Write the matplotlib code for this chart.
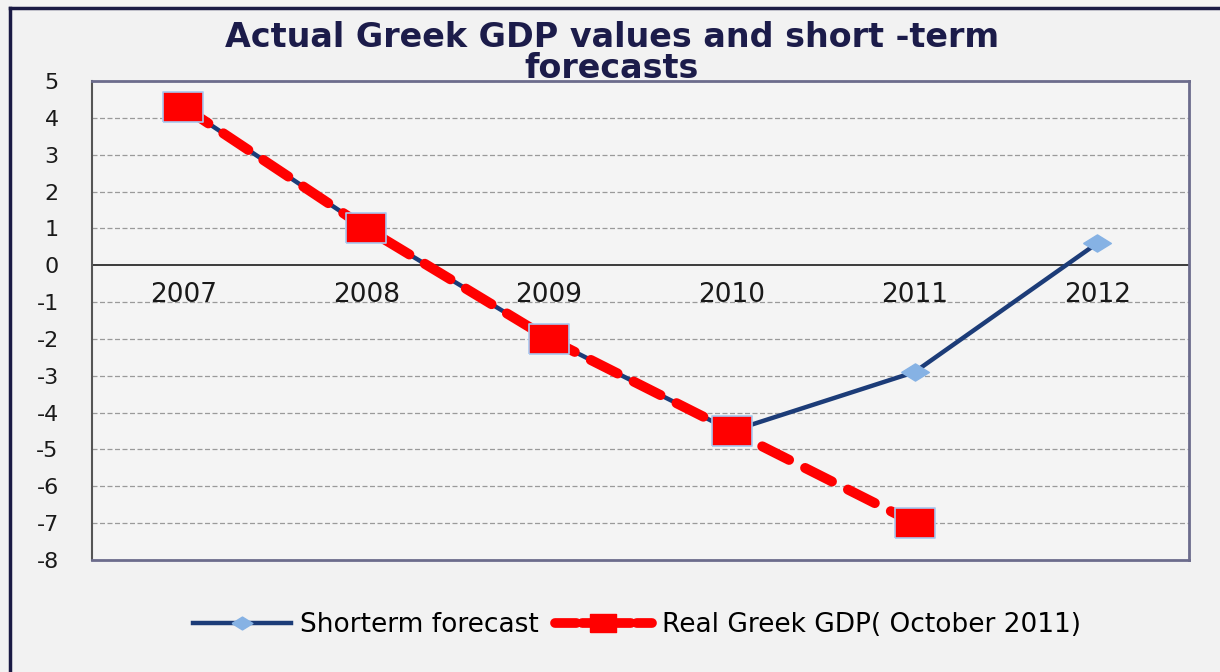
import matplotlib
matplotlib.use("Agg")
import matplotlib.pyplot as plt
from matplotlib.lines import Line2D

years = ["2007", "2008", "2009", "2010", "2011", "2012"]
forecast = [4.3, 1.0, -2.0, -4.5, -2.9, 0.6]
real_gdp = [4.3, 1.0, -2.0, -4.5, -7.0]
y_ticks = list(range(-8, 6))

navy = "#1c3c78"
light_blue = "#86b2e4"
red = "#ff0000"
bg = "#f2f2f2"

# wide, slightly squashed markers
square = [(-1.35, -1), (1.35, -1), (1.35, 1), (-1.35, 1), (-1.35, -1)]
diamond = [(-1, 0), (0, 0.62), (1, 0), (0, -0.62), (-1, 0)]

plt.rcParams['font.family'] = ['DejaVu Sans']

fig = plt.figure(figsize=(12.2, 6.72), dpi=100, facecolor=bg)
ax = fig.add_axes([0.0754, 0.1667, 0.899, 0.7128])
ax.set_facecolor("#f4f4f4")

x = list(range(len(years)))

# grid lines
for t in y_ticks:
    if t == 0:
        continue
    ax.axhline(t, color="#9a9a9a", lw=0.9, ls=(0, (4, 2)), zorder=1)
ax.axhline(0, color="#3a3a3a", lw=1.4, zorder=2)

ax.plot(x, forecast, color=navy, lw=3.2, marker=diamond, markersize=20,
        markerfacecolor=light_blue, markeredgecolor=light_blue, zorder=3)
ax.plot(x[:len(real_gdp)], real_gdp, color=red, lw=7.2, ls=(0, (3.0, 1.8)),
        dash_capstyle='round', zorder=4)
ax.plot(x[:len(real_gdp)], real_gdp, ls='none', marker=square, markersize=29,
        markerfacecolor=red, markeredgecolor="#a8c8f0", markeredgewidth=1.2,
        zorder=5)

ax.set_xlim(-0.5, len(years) - 0.5)
ax.set_ylim(-8, 5)
ax.set_xticks([])
ax.set_yticks(y_ticks)
ax.set_yticklabels([str(t) for t in y_ticks], fontsize=16, color="#1a1a1a")
ax.tick_params(axis='y', length=0, pad=24)

# category labels sit just under the zero line
for i, yr in enumerate(years):
    ax.annotate(yr, (i, 0), xytext=(0, -12), textcoords='offset points',
                ha='center', va='top', fontsize=19, color="#1a1a1a", zorder=6)

for side in ['top', 'right', 'bottom']:
    ax.spines[side].set_color("#6c6c8c")
    ax.spines[side].set_linewidth(2)
ax.spines['left'].set_color("#555555")
ax.spines['left'].set_linewidth(1.5)

fig.text(0.5016, 0.921, "Actual Greek GDP values and short -term\nforecasts",
         ha='center', va='center', fontsize=24, fontweight='bold',
         color="#1c1c4a", linespacing=0.95)

handles = [
    Line2D([], [], color=navy, lw=3.2, marker=diamond, markersize=15,
           markerfacecolor=light_blue, markeredgecolor=light_blue),
    Line2D([], [], color=red, lw=7, ls=(0, (2.2, 0.6)), dash_capstyle='round',
           marker=square, markersize=18, markerfacecolor=red,
           markeredgecolor=red),
]
fig.legend(handles, ["Shorterm forecast", "Real Greek GDP( October 2011)"],
           loc='center', bbox_to_anchor=(0.522, 0.07), ncol=2, frameon=False,
           fontsize=19, handlelength=3.7, handletextpad=0.35,
           columnspacing=0.6)

# outer frame edges
fig.add_artist(Line2D([0.0082, 0.0082], [0, 0.988], transform=fig.transFigure,
                      color="#1a1a44", lw=2.5))
fig.add_artist(Line2D([0.0082, 1], [0.988, 0.988], transform=fig.transFigure,
                      color="#1a1a44", lw=2.5))

fig.savefig("out.png", dpi=100, facecolor=bg)
